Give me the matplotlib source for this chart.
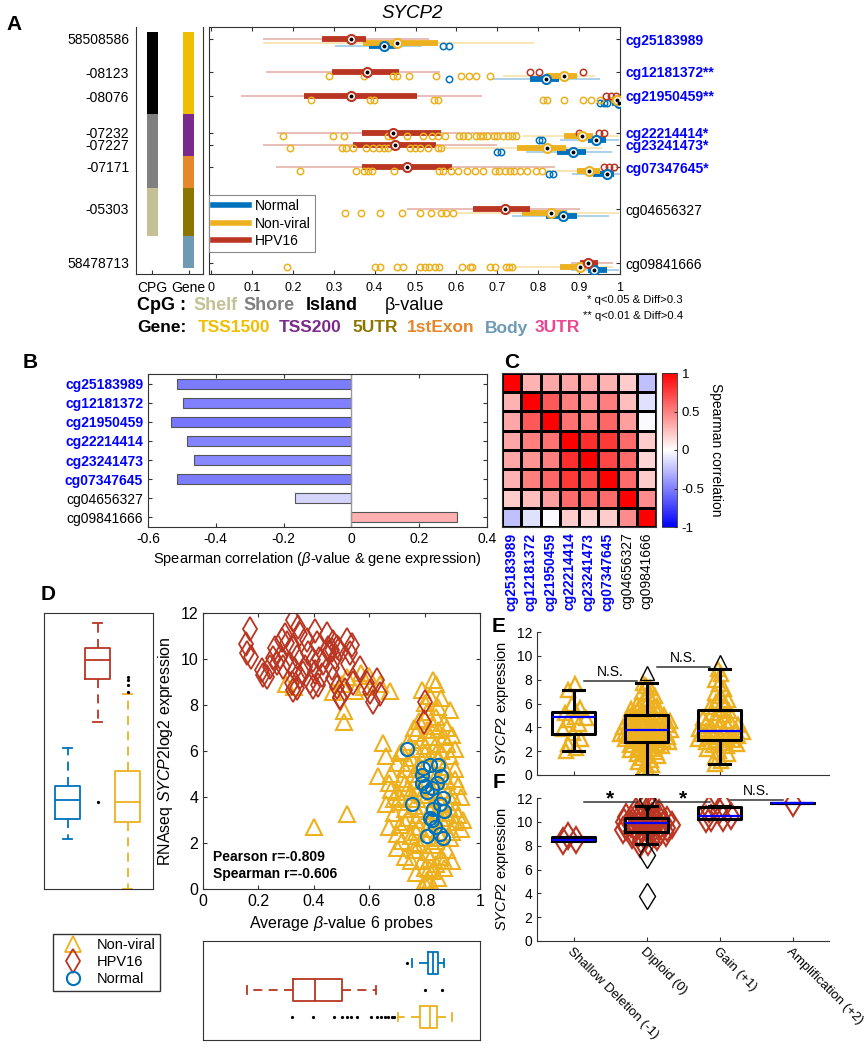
import numpy as np
import matplotlib
matplotlib.use("Agg")
import matplotlib.pyplot as plt
from matplotlib.lines import Line2D

plt.rcParams['font.family'] = ['Liberation Sans', 'DejaVu Sans']
plt.rcParams['mathtext.fontset'] = 'custom'
plt.rcParams['mathtext.rm'] = 'Liberation Sans'
plt.rcParams['mathtext.it'] = 'Liberation Sans:italic'
plt.rcParams['mathtext.bf'] = 'Liberation Sans:bold'
plt.rcParams['axes.linewidth'] = 0.8
plt.rcParams['axes.edgecolor'] = '#333333'
plt.rcParams['xtick.direction'] = 'in'
plt.rcParams['ytick.direction'] = 'in'
plt.rcParams['xtick.color'] = '#333333'
plt.rcParams['ytick.color'] = '#333333'
plt.rcParams['xtick.labelcolor'] = 'black'
plt.rcParams['ytick.labelcolor'] = 'black'

# ======================= DATA =======================
probes = ['cg25183989', 'cg12181372', 'cg21950459', 'cg22214414',
          'cg23241473', 'cg07347645', 'cg04656327', 'cg09841666']
probe_marks = ['', '**', '**', '*', '*', '*', '', '']
probe_selected = [True, True, True, True, True, True, False, False]
probe_positions = ['58508586', '-08123', '-08076', '-07232', '-07227',
                   '-07171', '-05303', '58478713']
cpg_region = ['Island', 'Island', 'Island', 'Shore', 'Shore', 'Shore', 'Shelf', None]
gene_region = ['TSS1500', 'TSS1500', 'TSS1500', 'TSS200', 'TSS200',
               '1stExon', '5UTR', 'Body']

# (whisker low, Q1, median, Q3, whisker high) per probe
beta_box_hpv16 = [(0.127, 0.272, 0.343, 0.379, 0.534),
                  (0.134, 0.296, 0.381, 0.460, 0.559),
                  (0.073, 0.228, 0.343, 0.504, 0.663),
                  (0.161, 0.369, 0.446, 0.562, 0.752),
                  (0.127, 0.348, 0.450, 0.549, 0.700),
                  (0.159, 0.369, 0.480, 0.589, 0.842),
                  (0.480, 0.640, 0.718, 0.781, 0.903),
                  (0.880, 0.901, 0.922, 0.945, 0.982)]
beta_box_nonviral = [(0.127, 0.372, 0.455, 0.556, 0.789),
                     (0.715, 0.818, 0.862, 0.895, 0.940),
                     (0.960, 0.975, 0.993, 0.997, 1.000),
                     (0.764, 0.864, 0.908, 0.935, 0.997),
                     (0.565, 0.747, 0.822, 0.869, 0.957),
                     (0.820, 0.895, 0.925, 0.950, 0.993),
                     (0.600, 0.761, 0.832, 0.871, 0.997),
                     (0.740, 0.854, 0.903, 0.911, 0.982)]
beta_box_normal = [(0.303, 0.387, 0.424, 0.455, 0.516),
                   (0.687, 0.779, 0.818, 0.852, 0.952),
                   (0.975, 0.980, 0.998, 0.999, 1.000),
                   (0.854, 0.922, 0.942, 0.966, 0.997),
                   (0.771, 0.847, 0.884, 0.916, 0.981),
                   (0.883, 0.935, 0.967, 0.985, 0.999),
                   (0.736, 0.820, 0.861, 0.894, 0.973),
                   (0.880, 0.921, 0.936, 0.967, 0.997)]
beta_out_hpv16 = [[], [0.779, 0.801, 0.910], [0.966, 0.978, 0.989],
                  [0.899, 0.948, 0.960], [], [0.960, 0.973, 0.986], [], []]
beta_out_nonviral = [
    [],
    [0.289, 0.375, 0.446, 0.455, 0.485, 0.550, 0.611, 0.630, 0.648, 0.683],
    [0.244, 0.389, 0.399, 0.544, 0.555, 0.812, 0.822, 0.862, 0.910, 0.929, 0.952],
    [0.175, 0.299, 0.326, 0.432, 0.442, 0.480, 0.519, 0.541, 0.556, 0.572, 0.607,
     0.617, 0.629, 0.648, 0.658, 0.666, 0.676, 0.691, 0.699, 0.715, 0.725, 0.735, 0.746],
    [0.192, 0.321, 0.330, 0.346, 0.380, 0.397, 0.410, 0.424, 0.432, 0.487, 0.498,
     0.510, 0.531, 0.554, 0.562],
    [0.218, 0.354, 0.375, 0.384, 0.393, 0.448, 0.557, 0.567, 0.586, 0.603, 0.627,
     0.646, 0.666, 0.695, 0.705, 0.719, 0.732, 0.742, 0.756, 0.772, 0.795, 0.810],
    [0.181, 0.328, 0.367, 0.414, 0.467, 0.510, 0.539, 0.562, 0.575, 0.591],
    [0.186, 0.402, 0.412, 0.454, 0.469, 0.512, 0.522, 0.534, 0.548, 0.557, 0.614,
     0.634, 0.637, 0.683, 0.695, 0.722, 0.728, 0.736]]
beta_out_normal = [[0.568, 0.583], [0.583], [0.952, 0.960, 0.968], [0.801, 0.810],
                   [0.699, 0.709], [0.826, 0.836], [], []]

# Panel B: Spearman correlation beta-value vs expression
corr_expr = [-0.514, -0.498, -0.533, -0.484, -0.463, -0.514, -0.166, 0.311]

# Panel C: probe-probe Spearman correlation
corr_matrix = [
    [1.00, 0.30, 0.35, 0.35, 0.35, 0.30, 0.20, -0.25],
    [0.30, 1.00, 0.65, 0.50, 0.42, 0.50, 0.25, -0.12],
    [0.35, 0.65, 1.00, 0.55, 0.50, 0.60, 0.38, -0.02],
    [0.35, 0.50, 0.55, 1.00, 0.82, 0.78, 0.58, 0.20],
    [0.35, 0.42, 0.50, 0.82, 1.00, 0.72, 0.58, 0.17],
    [0.30, 0.50, 0.60, 0.78, 0.72, 1.00, 0.58, 0.20],
    [0.20, 0.25, 0.38, 0.58, 0.58, 0.58, 1.00, 0.45],
    [-0.25, -0.12, -0.02, 0.20, 0.17, 0.20, 0.45, 1.00]]

# Panel D: average beta (6 probes) vs RNAseq expression
hpv_beta = [0.170, 0.155, 0.158, 0.172, 0.212, 0.230, 0.242, 0.253, 0.260, 0.284, 0.296,
            0.303, 0.278, 0.268, 0.290, 0.326, 0.344, 0.350, 0.326, 0.338, 0.314, 0.332,
            0.320, 0.338, 0.350, 0.368, 0.380, 0.374, 0.404, 0.410, 0.398, 0.404, 0.386,
            0.416, 0.428, 0.434, 0.446, 0.452, 0.464, 0.470, 0.483, 0.477, 0.464, 0.470,
            0.483, 0.495, 0.513, 0.519, 0.537, 0.531, 0.525, 0.543, 0.567, 0.591, 0.603,
            0.615, 0.627, 0.639, 0.801, 0.798, 0.218, 0.397, 0.326, 0.495, 0.456, 0.490,
            0.360, 0.420]
hpv_expr = [11.29, 10.64, 10.25, 10.10, 9.52, 9.23, 9.67, 10.04, 10.48, 10.83, 11.04,
            10.70, 10.10, 9.81, 9.67, 11.70, 11.40, 11.10, 10.50, 10.10, 9.80, 9.52,
            8.94, 8.72, 9.23, 9.67, 10.25, 10.83, 11.20, 10.68, 9.96, 9.45, 9.01,
            8.87, 9.30, 9.81, 11.10, 10.50, 10.39, 10.75, 10.53, 10.03, 9.59, 9.16,
            8.80, 8.36, 8.65, 10.83, 10.60, 10.25, 9.80, 8.94, 9.59, 8.94, 8.57,
            8.14, 9.09, 8.50, 8.14, 7.27, 9.30, 8.78, 8.65, 8.30, 10.30, 10.45,
            9.40, 10.00]
nv_beta = [0.79, 0.80, 0.82, 0.84, 0.86, 0.83,
           0.78, 0.81, 0.84, 0.87, 0.89, 0.76, 0.83,
           0.74, 0.77, 0.80, 0.82, 0.85, 0.88, 0.90, 0.79, 0.86, 0.72,
           0.66, 0.70, 0.73, 0.75, 0.78, 0.80, 0.83, 0.85, 0.87, 0.89, 0.91, 0.76, 0.81, 0.84, 0.65,
           0.63, 0.67, 0.70, 0.72, 0.74, 0.77, 0.79, 0.82, 0.84, 0.86, 0.88, 0.90, 0.92, 0.71,
           0.80, 0.85, 0.75, 0.93,
           0.66, 0.69, 0.72, 0.74, 0.76, 0.78, 0.80, 0.82, 0.84, 0.86, 0.88, 0.90, 0.92, 0.77,
           0.83, 0.87, 0.73, 0.89,
           0.67, 0.70, 0.73, 0.75, 0.78, 0.80, 0.82, 0.85, 0.87, 0.89, 0.93, 0.76, 0.84, 0.91,
           0.70, 0.73, 0.76, 0.79, 0.81, 0.83, 0.86, 0.88, 0.84, 0.78, 0.90,
           0.79, 0.815, 0.83, 0.83, 0.85, 0.81, 0.87, 0.77,
           0.40, 0.52,
           0.30, 0.33, 0.47, 0.51, 0.51, 0.52, 0.55, 0.58, 0.60, 0.64, 0.675, 0.57, 0.50,
           0.68, 0.71, 0.74, 0.77, 0.81, 0.84, 0.87, 0.91, 0.68, 0.73, 0.78, 0.83, 0.87,
           0.91, 0.69, 0.75, 0.79, 0.85, 0.91, 0.94, 0.71, 0.77, 0.81, 0.86, 0.90, 0.72,
           0.75, 0.82, 0.87, 0.80, 0.85, 0.80, 0.88, 0.81]
nv_expr = [8.65, 8.10, 8.40, 8.90, 8.30, 9.10,
           7.30, 7.70, 7.50, 7.20, 7.80, 7.00, 7.10,
           6.40, 6.80, 6.20, 6.60, 6.90, 6.30, 6.70, 6.50, 6.00, 6.00,
           5.80, 5.50, 5.20, 5.70, 5.40, 5.90, 5.10, 5.60, 5.30, 5.80, 5.20, 5.00, 5.50, 5.90, 6.35,
           4.90, 4.60, 4.20, 4.80, 4.40, 4.70, 4.10, 4.50, 4.90, 4.30, 4.70, 4.10, 4.50, 4.00,
           4.80, 4.00, 4.20, 4.00,
           3.70, 3.30, 3.80, 3.10, 3.60, 3.20, 3.90, 3.40, 3.00, 3.70, 3.30, 3.80, 3.20, 3.00,
           3.60, 3.10, 3.50, 3.50,
           2.70, 2.40, 2.90, 2.30, 2.70, 2.20, 2.90, 2.50, 2.80, 2.20, 2.60, 2.00, 2.10, 2.90,
           1.80, 1.40, 1.70, 1.20, 1.60, 1.90, 1.40, 1.70, 1.10, 1.90, 1.20,
           0.10, 0.85, 0.10, 0.80, 0.50, 0.40, 0.90, 0.70,
           2.70, 3.25,
           8.90, 8.80, 8.55, 7.75, 7.25, 9.20, 8.60, 8.80, 9.25, 8.90, 8.60, 9.40, 8.90,
           5.00, 5.90, 5.50, 6.10, 6.90, 6.30, 6.60, 6.10, 4.30, 4.60, 4.40, 4.20, 4.90,
           4.80, 3.90, 3.90, 3.50, 3.30, 3.50, 3.00, 2.80, 2.50, 2.60, 2.20, 2.50, 2.10,
           1.20, 1.30, 1.20, 0.90, 7.90, 7.40, 7.00, 0.10]
nrm_beta = [0.735, 0.756, 0.790, 0.800, 0.810, 0.820, 0.810, 0.825, 0.830, 0.795, 0.826,
            0.850, 0.867, 0.855, 0.870, 0.838, 0.855, 0.866, 0.790, 0.820, 0.845, 0.860]
nrm_expr = [6.10, 3.70, 4.95, 4.50, 4.20, 5.40, 2.30, 3.00, 3.50, 5.24, 4.37,
            5.40, 3.95, 3.70, 3.40, 2.70, 2.40, 2.20, 4.60, 3.10, 4.60, 4.90]
pearson_r = -0.809
spearman_r = -0.606
# marginal box statistics (whisker low, Q1, median, Q3, whisker high, outliers)
expr_box = {'Normal': (2.17, 3.06, 3.87, 4.49, 6.12, []),
            'HPV16': (7.28, 9.12, 9.96, 10.48, 11.58, [3.79]),
            'Non-viral': (0.0, 2.90, 3.79, 5.13, 8.46, [8.58, 8.87, 9.09, 9.23])}
beta_avg_box = {'Normal': (0.753, 0.811, 0.831, 0.849, 0.870, [0.737]),
                'HPV16': (0.158, 0.326, 0.404, 0.500, 0.625, [0.801, 0.862]),
                'Non-viral': (0.703, 0.783, 0.819, 0.843, 0.898,
                              [0.320, 0.398, 0.474, 0.503, 0.519, 0.534, 0.555, 0.606,
                               0.627, 0.643, 0.657, 0.669, 0.681, 0.691])}

# Panels E / F: expression by copy-number category
cna_labels = ['Shallow Deletion (-1)', 'Diploid (0)', 'Gain (+1)', 'Amplification (+2)']
e_shallow = [2.0, 2.3, 2.6, 3.0, 3.5, 3.9, 4.3, 4.6, 4.8, 4.9, 5.2, 5.6, 6.0, 7.1, 7.6]
e_diploid = [0.0, 0.3, 0.5, 0.8, 0.9, 1.1, 1.3, 1.4, 1.6, 1.7, 1.8, 1.9,
             2.0, 2.1, 2.2, 2.3, 2.4, 2.5, 2.55, 2.6, 2.7, 2.75, 2.8, 2.85, 2.9, 2.95,
             3.0, 3.05, 3.1, 3.15, 3.2, 3.25, 3.3, 3.35, 3.4, 3.45, 3.5, 3.55, 3.6, 3.65,
             3.7, 3.75, 3.8, 3.85, 3.9, 3.95, 4.0, 4.05, 4.1, 4.15, 4.2, 4.3, 4.35, 4.4,
             4.5, 4.55, 4.6, 4.7, 4.75, 4.8, 4.9, 4.95, 5.0, 5.05, 5.1, 5.2, 5.3, 5.4,
             5.5, 5.6, 5.7, 5.8, 5.9, 6.0, 6.2, 6.4, 6.6, 6.8, 7.0, 7.3, 7.5, 7.74]
e_gain = [0.9, 1.2, 1.5, 1.8, 2.0, 2.2, 2.4, 2.5, 2.6, 2.7, 2.8, 2.9, 2.95, 3.0, 3.1,
          3.2, 3.25, 3.3, 3.4, 3.45, 3.5, 3.6, 3.65, 3.7, 3.75, 3.8, 3.9, 4.0, 4.1, 4.2,
          4.3, 4.4, 4.5, 4.6, 4.8, 5.0, 5.2, 5.4, 5.5, 5.7, 5.9, 6.1, 6.3, 6.6, 6.9,
          7.2, 7.6, 8.0, 8.5, 8.92]
e_outliers = {2: [8.53], 3: [9.5]}
e_box = [(2.01, 3.44, 4.84, 5.31, 7.13),
         (0.00, 2.80, 3.78, 5.03, 7.74),
         (0.90, 2.94, 3.72, 5.45, 8.92)]
f_shallow = [8.40, 8.50, 8.78]
f_diploid = [8.15, 8.3, 8.5, 8.7, 8.8, 8.9, 9.0, 9.05, 9.1, 9.15, 9.2, 9.25, 9.3,
             9.35, 9.4, 9.45, 9.5, 9.55, 9.6, 9.65, 9.7, 9.75, 9.8, 9.85, 9.9, 9.95,
             10.0, 10.05, 10.1, 10.15, 10.2, 10.25, 10.3, 10.35, 10.4, 10.5, 10.6,
             10.7, 10.8, 10.9, 11.0, 11.2, 11.37]
f_gain = [10.20, 10.30, 10.35, 10.50, 10.90, 11.10, 11.30]
f_amp = [11.58]
f_outliers = {2: [11.9, 7.22, 3.77]}
f_box = [(8.36, 8.36, 8.50, 8.76, 8.76),
         (8.15, 9.18, 9.94, 10.36, 11.37),
         (10.20, 10.25, 10.45, 11.24, 11.30),
         (11.58, 11.58, 11.58, 11.58, 11.58)]
e_signif = [(1, 2, 7.9, 'N.S.'), (2, 3, 9.08, 'N.S.')]
f_signif = [(1, 2, 11.66, '*'), (2, 3, 11.66, '*'), (3, 4, 11.85, 'N.S.')]

# ======================= STYLE =======================
BLUE = '#0072BD'
YELLOW = '#EDB120'
RED = '#BA3522'
SEL_BLUE = '#0000FF'
cpg_colors = {'Island': '#000000', 'Shore': '#808080', 'Shelf': '#C3C195'}
gene_colors = {'TSS1500': '#F0BE00', 'TSS200': '#7A2A8C', '5UTR': '#8B7500',
               '1stExon': '#E5872A', 'Body': '#6E9AB4', '3UTR': '#EC4690'}

W, H = 865, 1050
fig = plt.figure(figsize=(W / 100, H / 100), dpi=100)


def axpx(l, t, r, b, **kw):
    return fig.add_axes([l / W, 1 - b / H, (r - l) / W, (b - t) / H], **kw)


def ftext(x, y, s, **kw):
    kw.setdefault('ha', 'left')
    kw.setdefault('va', 'center')
    return fig.text(x / W, 1 - y / H, s, **kw)


def style_labels(labels, selected):
    for k, lab in enumerate(labels):
        if selected[k]:
            lab.set_color(SEL_BLUE)
            lab.set_fontweight('bold')
        else:
            lab.set_color('black')


# ======================= PANEL A =======================
row_px = [39, 72, 96, 132.5, 144.5, 167, 209, 263]   # layout rows (pixel units)
axL = axpx(136, 27, 203, 274)
axL.set_xlim(0, 1)
axL.set_ylim(274, 27)
n = len(probes)
for i, r in enumerate(row_px):
    top = r - 7 if i == 0 else (row_px[i - 1] + r) / 2
    bot = r + 5 if i == n - 1 else (r + row_px[i + 1]) / 2
    if cpg_region[i] is not None:
        axL.bar(0.246, bot - top, bottom=top, width=0.165,
                color=cpg_colors[cpg_region[i]], lw=0)
    axL.bar(0.784, bot - top, bottom=top, width=0.165,
            color=gene_colors[gene_region[i]], lw=0)
axL.set_yticks(row_px, probe_positions)
axL.tick_params(axis='y', length=0, pad=5, labelsize=10)
for lab in axL.get_yticklabels():
    lab.set_verticalalignment('center_baseline')
axL.set_xticks([0.246, 0.784], ['CPG', 'Gene'])
axL.tick_params(axis='x', length=3, labelsize=10, pad=5)
axL.spines['top'].set_visible(False)

ax = axpx(209, 27, 620, 274, facecolor='none')
ax.set_xlim(-0.005, 1.0)
ax.set_ylim(274, 27)
groupsA = [('Normal', beta_box_normal, beta_out_normal, BLUE, 7.0),
           ('Non-viral', beta_box_nonviral, beta_out_nonviral, YELLOW, 3.5),
           ('HPV16', beta_box_hpv16, beta_out_hpv16, RED, 0.0)]
for name, boxes, outs, col, off in groupsA:
    for i, (lo, q1, md, q3, hi) in enumerate(boxes):
        y = row_px[i] + off
        ax.plot([lo, hi], [y, y], color=col, alpha=0.35, lw=1.3,
                solid_capstyle='butt', zorder=2)
        ax.plot([q1, q3], [y, y], color=col, lw=4.2, solid_capstyle='butt', zorder=3)
        if outs[i]:
            ax.plot(outs[i], [y] * len(outs[i]), 'o', mfc='none', mec=col,
                    ms=4.6, mew=1.1, zorder=4)
for name, boxes, outs, col, off in groupsA:
    for i, (lo, q1, md, q3, hi) in enumerate(boxes):
        y = row_px[i] + off
        ax.plot(md, y, 'o', mfc='white', mec=col, ms=6.5, mew=1.5, zorder=6)
        ax.plot(md, y, 'o', color='k', ms=1.8, zorder=7)
ax.set_xticks(np.round(np.arange(0, 1.01, 0.1), 1),
              ['0'] + ['%.1f' % v for v in np.arange(0.1, 0.95, 0.1)] + ['1'])
ax.tick_params(axis='x', top=True, length=3, labelsize=9, pad=6)
ax.set_yticks(row_px, [p + m for p, m in zip(probes, probe_marks)])
ax.tick_params(axis='y', left=True, right=True, labelleft=False, labelright=True,
               length=3, labelsize=10, pad=4)
style_labels(ax.get_yticklabels(), probe_selected)
for lab in ax.get_yticklabels():
    lab.set_verticalalignment('center_baseline')
legA = ax.legend([Line2D([0], [0], color=BLUE, lw=4),
                  Line2D([0], [0], color=YELLOW, lw=4),
                  Line2D([0], [0], color=RED, lw=4)],
                 ['Normal', 'Non-viral', 'HPV16'], loc='upper left',
                 bbox_to_anchor=(0.0, 0.32), borderaxespad=0, fontsize=10,
                 fancybox=False, edgecolor='#888888', handlelength=2.6,
                 borderpad=0.3, labelspacing=0.25, handletextpad=0.4, framealpha=1)
legA.get_frame().set_linewidth(0.8)

ftext(412, 13, 'SYCP2', fontsize=13.5, style='italic', ha='center')
ftext(14, 24, 'A', fontsize=15, weight='bold', ha='center')
ftext(414, 305, 'β-value', fontsize=13, ha='center')
for x, s, c in [(137, 'CpG :', 'black'), (193, 'Shelf', cpg_colors['Shelf']),
                (243, 'Shore', cpg_colors['Shore']), (306, 'Island', 'black')]:
    ftext(x, 306, s, fontsize=13, weight='bold', color=c)
for x, s in [(137, 'Gene:'), (198, 'TSS1500'), (279, 'TSS200'), (352, '5UTR'),
             (407, '1stExon'), (485, 'Body'), (535, '3UTR')]:
    ftext(x, 328, s, fontsize=12.5, weight='bold', color=gene_colors.get(s, 'black'))
ftext(587, 300, '* q<0.05 & Diff>0.3', fontsize=8.2)
ftext(583, 316, '** q<0.01 & Diff>0.4', fontsize=8.2)

# ======================= PANEL B =======================
cmap = plt.get_cmap('bwr')
axB = axpx(148, 374, 487, 527)
ypos = np.arange(len(probes))
axB.barh(ypos, corr_expr, height=0.52,
         color=[cmap((v + 1) / 2) for v in corr_expr], edgecolor='#555555', lw=0.8)
axB.axvline(0, color='#999999', lw=1)
axB.set_xlim(-0.6, 0.4)
axB.set_ylim(len(probes) - 0.5, -0.5)
axB.set_xticks([-0.6, -0.4, -0.2, 0, 0.2, 0.4], ['-0.6', '-0.4', '-0.2', '0', '0.2', '0.4'])
axB.set_yticks(ypos, probes)
axB.tick_params(top=True, right=True, length=3, labelsize=10)
style_labels(axB.get_yticklabels(), probe_selected)
axB.set_xlabel(r'Spearman correlation ($\beta$-value & gene expression)', fontsize=10.5,
               labelpad=3)
ftext(30, 363, 'B', fontsize=15, weight='bold', ha='center')

# ======================= PANEL C =======================
axC = axpx(502, 373, 656, 527)
M = np.array(corr_matrix)
mesh = axC.pcolormesh(np.arange(9), np.arange(9), M, cmap='bwr', vmin=-1, vmax=1,
                      edgecolors='black', linewidth=1.0)
axC.set_xlim(0, 8)
axC.set_ylim(8, 0)
axC.set_xticks(np.arange(8) + 0.5, probes, rotation=90)
axC.set_yticks([])
axC.tick_params(length=0, labelsize=10, pad=4)
style_labels(axC.get_xticklabels(), probe_selected)
cax = axpx(662, 373, 677, 527)
cb = fig.colorbar(mesh, cax=cax, ticks=[-1, -0.5, 0, 0.5, 1])
cb.ax.set_yticklabels(['-1', '-0.5', '0', '0.5', '1'])
cb.ax.tick_params(labelsize=9.5, length=2)
cb.outline.set_linewidth(0.6)
cb.set_label('Spearman correlation', rotation=270, fontsize=10, labelpad=13)
ftext(512, 362, 'C', fontsize=15, weight='bold', ha='center')

# ======================= PANEL D =======================
axD = axpx(203, 613, 480, 889)
axD.plot(nv_beta, nv_expr, '^', mfc='none', mec=YELLOW, ms=12, mew=1.5, ls='none')
axD.plot(hpv_beta, hpv_expr, 'd', mfc='none', mec=RED, ms=12.5, mew=1.3, ls='none')
axD.plot(nrm_beta, nrm_expr, 'o', mfc='none', mec=BLUE, ms=9.5, mew=1.5, ls='none')
axD.set_xlim(0, 1)
axD.set_ylim(0, 12)
axD.set_xticks([0, 0.2, 0.4, 0.6, 0.8, 1], ['0', '0.2', '0.4', '0.6', '0.8', '1'])
axD.set_yticks(range(0, 13, 2))
axD.tick_params(top=True, right=True, length=3, labelsize=11.5)
axD.set_xlabel(r'Average $\beta$-value 6 probes', fontsize=11.5, labelpad=4)
axD.set_ylabel(r'RNAseq $\it{SYCP2}$log2 expression', fontsize=11.5, labelpad=4)
axD.text(0.036, 0.116, 'Pearson r=%.3f' % pearson_r, transform=axD.transAxes,
         fontsize=10, weight='bold', va='center')
axD.text(0.036, 0.054, 'Spearman r=%.3f' % spearman_r, transform=axD.transAxes,
         fontsize=10, weight='bold', va='center')
ftext(48, 595, 'D', fontsize=15, weight='bold', ha='center')

order_D = [('Normal', BLUE), ('HPV16', RED), ('Non-viral', YELLOW)]


def draw_box(axx, st, pos, col, orient, width, capw, lw, dash, flier_kw):
    lo, q1, md, q3, hi = st[:5]
    stats = [dict(whislo=lo, q1=q1, med=md, q3=q3, whishi=hi,
                  fliers=st[5] if len(st) > 5 else [])]
    kw = dict(positions=[pos], widths=width, capwidths=capw, showfliers=True,
              boxprops=dict(color=col, lw=lw),
              whiskerprops=dict(color=col, lw=lw, linestyle=dash),
              capprops=dict(color=col, lw=lw), medianprops=dict(color=col, lw=lw),
              flierprops=flier_kw, manage_ticks=False)
    try:
        axx.bxp(stats, orientation=orient, **kw)
    except TypeError:
        axx.bxp(stats, vert=(orient == 'vertical'), **kw)


dot_flier = dict(marker='o', mfc='k', mec='k', ms=1.3, ls='none')
axDL = axpx(44, 613, 153, 889)
for k, (g, col) in enumerate(order_D):
    draw_box(axDL, expr_box[g], k + 1, col, 'vertical', 0.83, 0.3, 1.3, (0, (5, 3.5)), dot_flier)
axDL.set_xlim(0.2, 3.85)
axDL.set_ylim(0, 12)
axDL.set_xticks([])
axDL.set_yticks([])

axDB = axpx(203, 941, 480, 1040)
for k, (g, col) in enumerate(order_D):
    draw_box(axDB, beta_avg_box[g], k + 1, col, 'horizontal', 0.82, 0.3, 1.3, (0, (5, 3.5)), dot_flier)
axDB.set_xlim(0, 1)
axDB.set_ylim(3.85, 0.2)
axDB.set_xticks([])
axDB.set_yticks([])

fig.legend([Line2D([0], [0], marker='^', mfc='none', mec=YELLOW, ms=12, mew=1.3, ls='none'),
            Line2D([0], [0], marker='d', mfc='none', mec=RED, ms=12.5, mew=1.3, ls='none'),
            Line2D([0], [0], marker='o', mfc='none', mec=BLUE, ms=9.5, mew=1.5, ls='none')],
           ['Non-viral', 'HPV16', 'Normal'], loc='upper left',
           bbox_to_anchor=(53 / W, 1 - 934 / H), borderaxespad=0, fontsize=10.5,
           fancybox=False, edgecolor='#333333', framealpha=1, handlelength=2.2,
           borderpad=0.3, labelspacing=0.2, handletextpad=0.5)


# ======================= PANELS E / F =======================
def swarm_x(vals, center, maxw, bw):
    v = np.asarray(vals, float)
    if len(v) < 2:
        return np.full(len(v), float(center))
    d = np.exp(-0.5 * ((v[:, None] - v[None, :]) / bw) ** 2).sum(axis=1)
    d = d / d.max()
    order = np.argsort(v)
    u = np.empty(len(v))
    u[order] = ((np.arange(len(v)) * 0.6180339887) % 1.0) * 2 - 1
    return center + u * d * maxw


def signif(axx, items, ns_size, star_size):
    for a, b, y, s in items:
        axx.plot([a + 0.15, b - 0.13], [y, y], color='#333333', lw=1.1)
        if s == '*':
            axx.text((a + b) / 2, y - 0.55, s, ha='center', va='bottom', fontsize=star_size,
                     weight='bold')
        else:
            axx.text((a + b) / 2, y + 0.15, s, ha='center', va='bottom', fontsize=ns_size)


def style_ef(axx):
    for s in ['top', 'right']:
        axx.spines[s].set_visible(False)
    axx.set_xlim(0.5, 4.5)
    axx.set_ylim(0, 12)
    axx.set_yticks(range(0, 13, 2))
    axx.tick_params(length=3, labelsize=10)
    axx.set_ylabel(r'$\it{SYCP2}$ expression', fontsize=10.5, labelpad=4)


box_kw = dict(boxprops=dict(color='black', lw=2.2), whiskerprops=dict(color='black', lw=2.2),
              capprops=dict(color='black', lw=2.2), medianprops=dict(color=SEL_BLUE, lw=1.6),
              showfliers=False, manage_ticks=False)

axE = axpx(537, 632, 829, 775, facecolor='none')
e_groups = [e_shallow, e_diploid, e_gain]
e_width = [0.2, 0.37, 0.34]
for k, vals in enumerate(e_groups):
    xs = swarm_x(vals, k + 1, e_width[k], 0.8)
    axE.plot(xs, vals, '^', mfc='none', mec=YELLOW, ms=10, mew=1.7, ls='none', zorder=2)
for k, vals in e_outliers.items():
    axE.plot([k] * len(vals), vals, '^', mfc='none', mec='black', ms=10, mew=1.0,
             ls='none', zorder=3)
for k, st in enumerate(e_box):
    axE.bxp([dict(whislo=st[0], q1=st[1], med=st[2], q3=st[3], whishi=st[4], fliers=[])],
            positions=[k + 1], widths=0.58, capwidths=0.28, **box_kw)
style_ef(axE)
axE.set_xticks([1, 2, 3], ['', '', ''])
signif(axE, e_signif, 10, 15)
ftext(499, 626, 'E', fontsize=15, weight='bold', ha='center')

axF = axpx(537, 798, 829, 941, facecolor='none')
f_groups = [f_shallow, f_diploid, f_gain, f_amp]
f_width = [0.15, 0.37, 0.22, 0.0]
for k, vals in enumerate(f_groups):
    xs = swarm_x(vals, k + 1, f_width[k], 0.5)
    axF.plot(xs, vals, 'd', mfc='none', mec=RED, ms=13, mew=1.5, ls='none', zorder=2)
for k, vals in f_outliers.items():
    axF.plot([k] * len(vals), vals, 'd', mfc='none', mec='black', ms=13, mew=1.0,
             ls='none', zorder=3)
for k, st in enumerate(f_box):
    axF.bxp([dict(whislo=st[0], q1=st[1], med=st[2], q3=st[3], whishi=st[4], fliers=[])],
            positions=[k + 1], widths=0.58, capwidths=0.28, **box_kw)
style_ef(axF)
axF.set_xticks([1, 2, 3, 4])
axF.set_xticklabels(cna_labels, rotation=-45, ha='left', va='top', rotation_mode='anchor',
                    fontsize=9.5)
signif(axF, f_signif, 10, 15)
ftext(499, 783, 'F', fontsize=15, weight='bold', ha='center')

fig.savefig('out.png', dpi=100)
